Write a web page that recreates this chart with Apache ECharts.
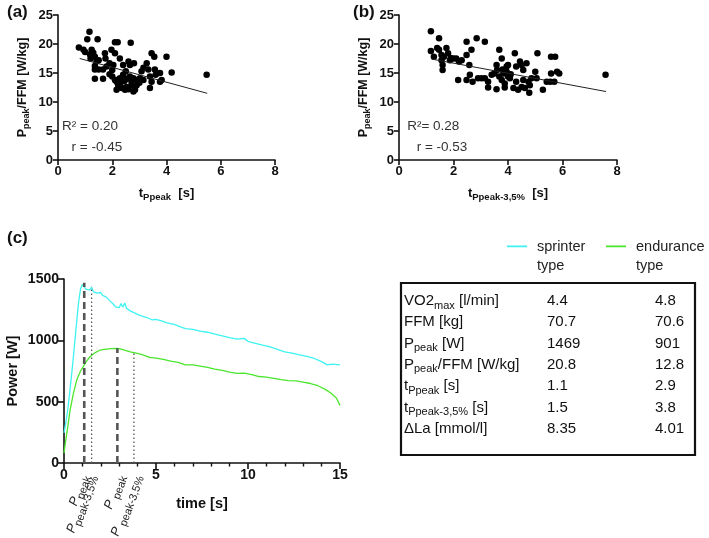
<!DOCTYPE html>
<html><head><meta charset="utf-8">
<script src="https://cdn.jsdelivr.net/npm/echarts@6/dist/echarts.min.js"></script>
<style>html,body{margin:0;padding:0;background:#fff}#c{width:709px;height:538px}</style>
</head><body><div id="c"></div>
<script>
// ---------- DATA ----------
// Panel (a): tPpeak [s] vs Ppeak/FFM [W/kg]
const aPoints = [[0.77,19.4],[0.94,19.0],[1.16,22.1],[1.08,20.8],[1.46,20.8],[1.24,19.0],[1.3,18.5],[1.18,18.2],[1.36,17.8],[1.42,17.0],[1.36,16.2],[1.36,15.6],[1.36,14.0],[1.66,14.0],[1.5,17.2],[1.75,17.5],[1.73,18.4],[2.1,20.3],[2.2,20.3],[2.68,20.2],[1.97,19.0],[2.1,18.4],[1.9,16.7],[2.04,16.4],[1.79,16.1],[2.28,17.5],[2.4,16.4],[2.6,17.0],[2.65,16.4],[2.0,14.4],[2.1,13.8],[2.16,13.5],[2.22,12.9],[2.16,12.1],[2.35,12.4],[2.47,12.1],[2.53,12.6],[2.71,12.9],[2.78,11.8],[2.84,12.1],[2.28,14.1],[2.4,14.7],[2.5,15.3],[2.65,14.4],[2.78,14.1],[2.9,13.8],[3.02,14.1],[3.08,15.3],[3.15,15.9],[3.27,16.7],[3.33,15.6],[3.39,14.4],[3.39,12.4],[3.45,13.5],[3.45,18.4],[3.55,17.8],[3.57,15.6],[3.6,14.7],[3.76,13.5],[3.82,13.8],[3.76,15.0],[4.0,17.8],[4.19,15.1],[5.48,14.7],[2.18,13.8],[2.9,12.9],[2.71,13.5],[3.15,13.8],[1.5,15.6],[1.66,15.6],[2.3,13.2],[2.45,13.6],[2.55,14.0],[1.9,14.8],[2.0,15.5],[1.2,17.5],[1.0,18.6],[2.8,16.7],[3.0,13.3],[2.6,12.2]];
const aFit = [[0.8,17.5],[5.5,11.5]];
const aStats = ['R² = 0.20', 'r = -0.45'];

// Panel (b): tPpeak-3,5% [s] vs Ppeak/FFM [W/kg]
const bPoints = [[1.17,22.2],[1.17,18.8],[1.28,17.8],[1.47,21.0],[1.4,19.3],[1.47,19.0],[1.56,18.1],[1.56,17.2],[1.6,16.4],[1.6,15.5],[1.74,19.3],[1.8,18.4],[1.87,17.2],[2.0,17.5],[2.1,17.5],[2.2,17.0],[2.3,17.2],[2.17,13.8],[2.48,20.4],[2.48,18.1],[2.58,16.4],[2.66,19.0],[2.48,13.8],[2.6,14.7],[2.7,13.5],[2.85,21.0],[2.9,14.1],[3.03,14.1],[3.15,20.4],[3.15,14.1],[3.27,13.5],[3.27,12.5],[3.4,14.7],[3.5,14.9],[3.58,12.2],[3.58,16.4],[3.6,15.5],[3.68,19.0],[3.77,17.5],[3.68,14.4],[3.77,13.8],[3.83,14.9],[3.88,13.2],[3.88,12.5],[3.95,16.1],[3.95,15.2],[4.0,16.4],[4.0,14.4],[4.07,14.1],[4.2,12.4],[4.25,18.4],[4.3,16.1],[4.3,13.5],[4.37,12.1],[4.44,17.0],[4.5,16.4],[4.56,15.5],[4.56,13.8],[4.5,12.6],[4.62,12.4],[4.68,16.7],[4.75,13.5],[4.78,11.6],[4.8,12.9],[4.86,14.1],[5.0,15.2],[5.05,14.1],[5.08,18.4],[5.28,12.1],[5.42,13.5],[5.55,13.5],[5.58,17.8],[5.58,14.9],[5.7,13.5],[5.73,17.8],[5.8,15.2],[5.88,14.9],[7.58,14.7],[1.65,17.8],[1.9,17.6],[3.8,15.6],[4.1,14.8]];
const bFit = [[1.2,17.4],[7.6,11.8]];
const bStats = ['R²= 0.28', 'r = -0.53'];

// Panel (c): power curves
const sprinterT = [0,0.1,0.2,0.3,0.4,0.5,0.6,0.7,0.8,0.9,1.0,1.1,1.2,1.3,1.4,1.5,1.6,1.7,1.8,1.9,2.0,2.1,2.2,2.3,2.4,2.5,2.6,2.7,2.8,2.9,3.0,3.1,3.2,3.3,3.4,3.5,3.6,3.8,4.0,4.2,4.5,4.8,5.0,5.3,5.6,6.0,6.3,6.6,7.0,7.4,7.8,8.2,8.6,9.0,9.4,9.8,10.0,10.4,10.8,11.2,11.6,12.0,12.4,12.8,13.2,13.6,14.0,14.3,14.6,15.0];
const sprinterP = [245,330,430,560,700,850,1010,1170,1320,1420,1455,1469,1415,1405,1412,1432,1395,1400,1385,1378,1390,1366,1378,1352,1345,1322,1330,1292,1272,1286,1266,1300,1270,1305,1262,1252,1240,1226,1212,1200,1186,1166,1170,1158,1142,1130,1112,1096,1090,1075,1066,1050,1036,1022,1010,1016,992,976,960,946,926,906,896,882,870,852,826,800,806,800];
const enduranceT = [0,0.1,0.2,0.33,0.5,0.69,0.9,1.06,1.2,1.41,1.7,1.96,2.2,2.4,2.6,2.86,3.0,3.3,3.6,3.8,4.2,4.67,5.0,5.4,5.8,6.2,6.6,7.0,7.4,7.8,8.2,8.6,9.0,9.4,9.8,10.2,10.6,11.0,11.4,11.8,12.2,12.6,13.0,13.4,13.8,14.2,14.5,14.8,15.0];
const enduranceP = [80,190,290,430,560,676,750,790,825,866,900,921,927,930,933,935,933,920,905,899,885,861,855,845,830,820,800,800,790,780,765,755,740,730,732,720,705,700,690,680,672,670,660,648,630,600,570,530,470];
const markerT = [1.1, 1.5, 2.9, 3.8];
const markerP = [1469, 1437, 935, 907];
const markerKind = ['dashed', 'dotted', 'dashed', 'dotted'];
const markerLabel = ['{i|P}{s|peak}', '{i|P}{s|peak-3,5%}', '{i|P} {s|peak}', '{i|P} {s|peak-3,5%}'];

// Table
const rowLabels = ['VO2{s|max}{n| [l/min]}', 'FFM [kg]', 'P{s|peak}{n| [W]}', 'P{s|peak}{n|/FFM [W/kg]}', 't{s|Ppeak}{n| [s]}', 't{s|Ppeak-3,5%}{n| [s]}', 'ΔLa [mmol/l]'];
const sprinterVals = ['4.4', '70.7', '1469', '20.8', '1.1', '1.5', '8.35'];
const enduranceVals = ['4.8', '70.6', '901', '12.8', '2.9', '3.8', '4.01'];
const seriesNames = ['sprinter type', 'endurance type'];

// ---------- CHART ----------
const F = '"Liberation Sans", Arial, Helvetica, sans-serif';
const chart = echarts.init(document.getElementById('c'));
const CYAN = '#3ff2f2', GREEN = '#4ae62c';

function axisBase(fs) {
  return {
    axisLine: {show: true, onZero: false, lineStyle: {color: '#111', width: 1.6}},
    axisTick: {show: true, length: 5, lineStyle: {color: '#111', width: 1.6}},
    axisLabel: {color: '#111', fontWeight: 'bold', fontSize: fs, fontFamily: F, margin: 5, formatter: (v) => String(v)},
    splitLine: {show: false},
    nameLocation: 'middle',
  };
}
const nameRich = (fs) => ({
  b: {fontSize: fs, fontWeight: 'bold', fontFamily: F, color: '#111'},
  s: {fontSize: fs - 3.5, fontWeight: 'bold', fontFamily: F, color: '#111', padding: [8, 0, 0, 0]}
});

const legendBase = {
  itemWidth: 20, itemHeight: 38, top: 232,
  icon: 'path://M0,0h0.01v0.01h-0.01zM0,8.6h20v1.6h-20zM0,37.99h0.01v0.01h-0.01z',
  formatter: (n) => n.replace(' ', '\n'),
  textStyle: {fontSize: 14.5, fontFamily: F, color: '#222', lineHeight: 19, padding: [0, 0, 0, 5]},
  lineStyle: {width: 0}, itemStyle: {borderWidth: 0}
};

const option = {
  animation: false,
  backgroundColor: '#fff',
  grid: [
    {left: 58, top: 15, width: 217, height: 145},
    {left: 399, top: 15, width: 218, height: 145},
    {left: 64, top: 279, width: 276, height: 184}
  ],
  xAxis: [
    Object.assign(axisBase(13), {gridIndex: 0, type: 'value', min: 0, max: 8, interval: 2,
      name: '{b|t}{s|Ppeak}{b|  [s]}', nameGap: 24, nameTextStyle: {rich: nameRich(13)}}),
    Object.assign(axisBase(13), {gridIndex: 1, type: 'value', min: 0, max: 8, interval: 2,
      name: '{b|t}{s|Ppeak-3,5%}{b|  [s]}', nameGap: 24, nameTextStyle: {rich: nameRich(13)}}),
    Object.assign(axisBase(14), {gridIndex: 2, type: 'value', min: 0, max: 15, interval: 5,
      axisTick: {show: true, length: 6, lineStyle: {color: '#111', width: 1.6}},
      minorTick: {show: true, splitNumber: 5, length: 3.5, lineStyle: {color: '#111', width: 1.4}},
      name: 'time [s]', nameGap: 33, nameTextStyle: {fontSize: 14.5, fontWeight: 'bold', fontFamily: F, color: '#111'}})
  ],
  yAxis: [
    Object.assign(axisBase(13), {gridIndex: 0, type: 'value', min: 0, max: 25, interval: 5,
      name: '{b|P}{s|peak}{b|/FFM [W/kg]}', nameGap: 27, nameTextStyle: {rich: nameRich(12.5)}}),
    Object.assign(axisBase(13), {gridIndex: 1, type: 'value', min: 0, max: 25, interval: 5,
      name: '{b|P}{s|peak}{b|/FFM [W/kg]}', nameGap: 27, nameTextStyle: {rich: nameRich(12.5)}}),
    Object.assign(axisBase(14), {gridIndex: 2, type: 'value', min: 0, max: 1500, interval: 500,
      axisTick: {show: true, length: 6, lineStyle: {color: '#111', width: 1.6}},
      name: 'Power [W]', nameGap: 44, nameTextStyle: {fontSize: 14.5, fontWeight: 'bold', fontFamily: F, color: '#111'}})
  ],
  legend: [
    Object.assign({}, legendBase, {data: [seriesNames[0]], left: 502}),
    Object.assign({}, legendBase, {data: [seriesNames[1]], left: 601})
  ],
  series: []
};

// scatter + fits
[[aPoints, aFit, 0], [bPoints, bFit, 1]].forEach(([pts, fit, gi]) => {
  option.series.push({type: 'scatter', xAxisIndex: gi, yAxisIndex: gi, data: pts, symbolSize: 6.5,
    itemStyle: {color: '#000', opacity: 1}, z: 3});
  option.series.push({type: 'line', xAxisIndex: gi, yAxisIndex: gi, data: fit, symbol: 'none',
    lineStyle: {color: '#222', width: 1}, z: 4});
});

// curves
option.series.push({name: seriesNames[0], type: 'line', xAxisIndex: 2, yAxisIndex: 2,
  data: sprinterT.map((t, i) => [t, sprinterP[i]]), symbol: 'none', showSymbol: false,
  lineStyle: {color: CYAN, width: 1.3}, itemStyle: {color: CYAN}, z: 3});
option.series.push({name: seriesNames[1], type: 'line', xAxisIndex: 2, yAxisIndex: 2,
  data: enduranceT.map((t, i) => [t, enduranceP[i]]), symbol: 'none', showSymbol: false,
  lineStyle: {color: GREEN, width: 1.3}, itemStyle: {color: GREEN}, z: 3});

// markers
markerT.forEach((t, i) => {
  const dashed = markerKind[i] === 'dashed';
  option.series.push({type: 'line', xAxisIndex: 2, yAxisIndex: 2, data: [[t, 0], [t, markerP[i]]],
    symbol: 'none', lineStyle: {color: '#555', width: dashed ? 2.6 : 1.3, type: dashed ? [7, 4] : [1.5, 2.5]}, z: 5});
});

chart.setOption(option);

// graphics: panel letters, stats, rotated marker labels, table
const g = [];
const letter = (txt, x, y) => g.push({type: 'text', left: x, top: y, style: {text: txt, fontSize: 17, fontWeight: 'bold', fontFamily: F, fill: '#111'}});
letter('(a)', 7, 4); letter('(b)', 353, 4); letter('(c)', 7, 230);

function stats(arr, gi, xv) {
  const p1 = chart.convertToPixel({xAxisIndex: gi, yAxisIndex: gi}, [xv, 5.8]);
  const p2 = chart.convertToPixel({xAxisIndex: gi, yAxisIndex: gi}, [xv + 0.35, 2.2]);
  g.push({type: 'text', x: p1[0], y: p1[1], style: {text: arr[0], fontSize: 13.5, fontFamily: F, fill: '#333', verticalAlign: 'middle'}});
  g.push({type: 'text', x: p2[0], y: p2[1], style: {text: arr[1], fontSize: 13.5, fontFamily: F, fill: '#333', verticalAlign: 'middle'}});
}
stats(aStats, 0, 0.15);
stats(bStats, 1, 0.3);

const y0 = chart.convertToPixel({yAxisIndex: 2}, 0);
markerT.forEach((t, i) => {
  const x = chart.convertToPixel({xAxisIndex: 2}, t);
  g.push({type: 'text', x: x + (i >= 2 ? 3 : 0), y: y0 + 12, rotation: 70 * Math.PI / 180,
    style: {text: markerLabel[i], align: 'right', verticalAlign: 'middle',
      rich: {i: {fontSize: 13, fontStyle: 'italic', fontFamily: F, fill: '#222'},
             s: {fontSize: 11, fontFamily: F, fill: '#222', padding: [9, 0, 0, 0]}}}});
});

// table
const tx = 401, ty = 283, tw = 294, th = 172;
g.push({type: 'rect', shape: {x: tx, y: ty, width: tw, height: th}, style: {fill: 'none', stroke: '#111', lineWidth: 2.2}});
const rowRich = {n: {fontSize: 15, fontFamily: F, fill: '#111'}, s: {fontSize: 11, fontFamily: F, fill: '#111', padding: [9, 0, 0, 0]}};
rowLabels.forEach((lab, i) => {
  const y = ty + 18 + i * 21.3;
  const txt = lab.startsWith('{') ? lab : lab.replace(/^([^{]+)/, '{n|$1}');
  g.push({type: 'text', x: tx + 3, y: y, style: {text: txt, verticalAlign: 'middle', rich: rowRich, fontSize: 15, fontFamily: F, fill: '#111'}});
  g.push({type: 'text', x: tx + 146, y: y, style: {text: sprinterVals[i], verticalAlign: 'middle', fontSize: 15, fontFamily: F, fill: '#111'}});
  g.push({type: 'text', x: tx + 254, y: y, style: {text: enduranceVals[i], verticalAlign: 'middle', fontSize: 15, fontFamily: F, fill: '#111'}});
});
chart.setOption({graphic: g});
</script></body></html>
